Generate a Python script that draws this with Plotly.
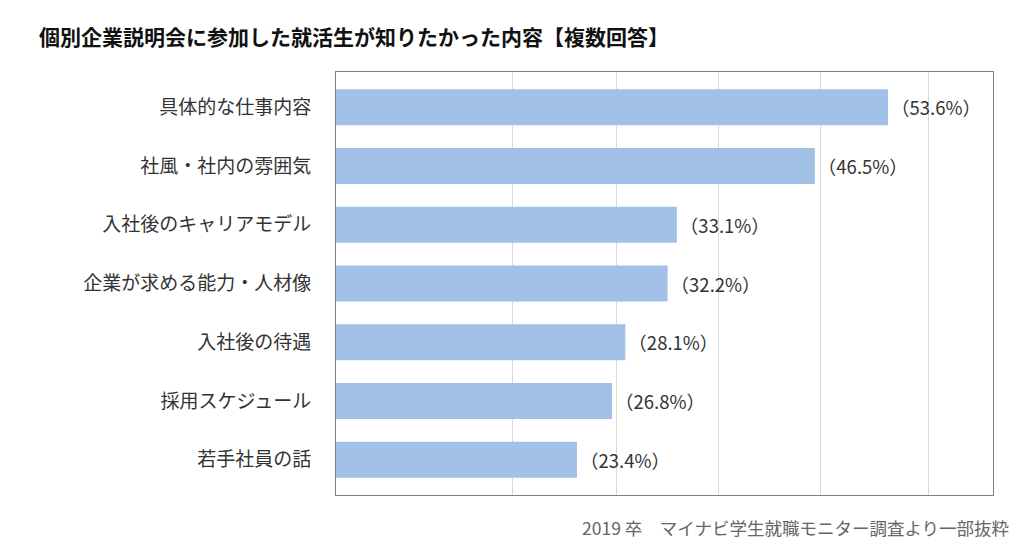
import plotly.graph_objects as go

# data
categories = [
    "具体的な仕事内容",
    "社風・社内の雰囲気",
    "入社後のキャリアモデル",
    "企業が求める能力・人材像",
    "入社後の待遇",
    "採用スケジュール",
    "若手社員の話",
]
values = [53.6, 46.5, 33.1, 32.2, 28.1, 26.8, 23.4]
grid_vals = [17.1, 27.2, 37.1, 47.0, 57.5]

title_text = "個別企業説明会に参加した就活生が知りたかった内容【複数回答】"
source_text = "2019 卒　マイナビ学生就職モニター調査より一部抜粋"

font_jp = "Noto Sans CJK JP"
bar_color = "#a2c1e6"

labels = ["（{:.1f}%）".format(v) for v in values]

fig = go.Figure()
fig.add_trace(
    go.Bar(
        x=values,
        y=list(range(len(categories))),
        orientation="h",
        marker=dict(color=bar_color, line=dict(width=0)),
        width=0.61,
        text=labels,
        textposition="outside",
        textfont=dict(family=font_jp, size=18.5, color="#333333"),
        cliponaxis=False,
        hoverinfo="skip",
    )
)

# page is drawn with an 8px body offset, margins account for it
fig.update_layout(
    width=1024,
    height=555,
    margin=dict(l=328, r=39, t=64, b=68),
    paper_bgcolor="white",
    plot_bgcolor="white",
    showlegend=False,
    font=dict(family=font_jp, color="#333333"),
    xaxis=dict(
        range=[0, 63.8],
        tickvals=grid_vals,
        showticklabels=False,
        showgrid=True,
        gridcolor="#d9d9d9",
        gridwidth=1,
        zeroline=False,
        showline=True,
        linecolor="#7f7f7f",
        linewidth=1,
        mirror=True,
        ticks="",
    ),
    yaxis=dict(
        range=[6.6, -0.6],
        tickvals=list(range(len(categories))),
        ticktext=categories,
        tickfont=dict(family=font_jp, size=19, color="#333333"),
        showgrid=False,
        zeroline=False,
        showline=True,
        linecolor="#7f7f7f",
        linewidth=1,
        mirror=True,
        ticks="",
        ticklabelstandoff=20,
    ),
)

fig.add_annotation(
    text="<b>" + title_text + "</b>",
    xref="paper", yref="paper",
    x=-0.455, y=1.085,
    xanchor="left", yanchor="middle",
    showarrow=False,
    font=dict(family=font_jp, size=21, color="#111111"),
)
fig.add_annotation(
    text=source_text,
    xref="paper", yref="paper",
    x=1.027, y=-0.0757,
    xanchor="right", yanchor="middle",
    showarrow=False,
    font=dict(family=font_jp, size=17.5, color="#666666"),
)

fig.write_html("out.html")
